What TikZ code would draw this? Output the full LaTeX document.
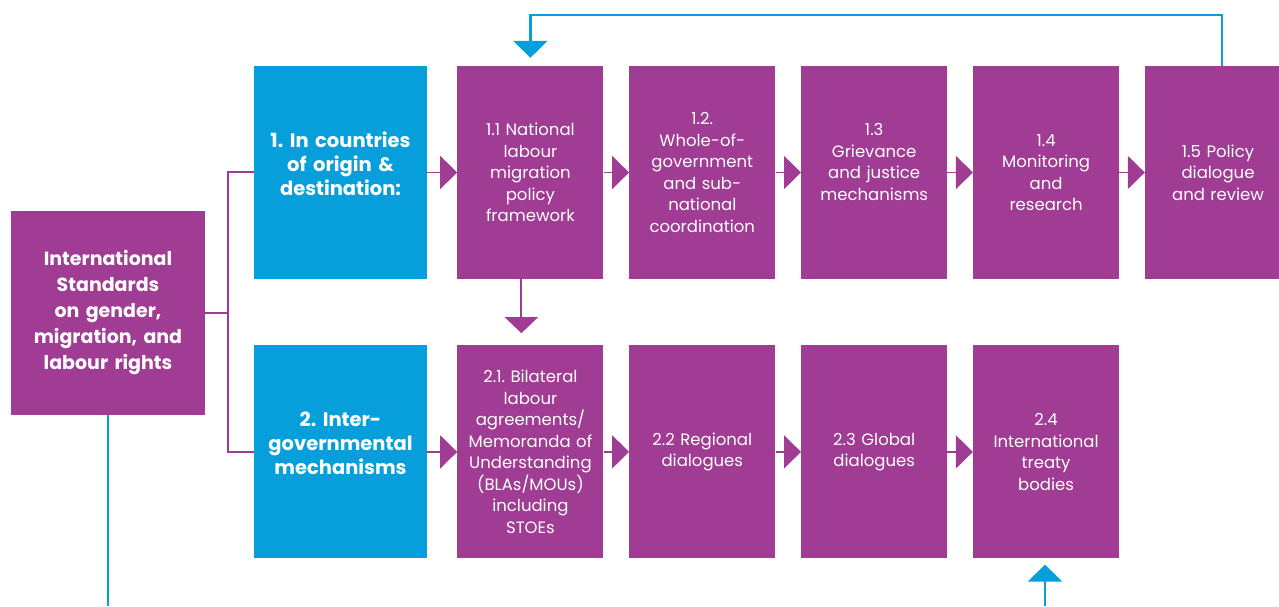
\documentclass[tikz,border=0pt]{standalone}
\usepackage{fontspec}
\setmainfont{Poppins}
\usepackage{xcolor}
\usepackage{tikz}
\usetikzlibrary{positioning,arrows.meta}
\definecolor{morado}{RGB}{160,60,147}
\definecolor{azul}{RGB}{7,159,219}
\frenchspacing

\begin{document}
\begin{tikzpicture}[x=1pt, y=1pt, node distance=66pt and 25.5pt,
  every node/.style={text=white, align=center, inner sep=0pt},
  paso/.style={fill=morado, minimum width=146pt, minimum height=213pt, text width=140pt, font=\fontsize{16.5}{21.5}\selectfont},
  eje/.style={fill=azul, minimum width=173pt, minimum height=213pt, text width=170pt, font=\bfseries\fontsize{19.5}{24}\selectfont},
  enlace/.style={draw=morado, line width=2pt},
  retro/.style={draw=azul, line width=2.5pt}]
  \useasboundingbox (0,0) rectangle (1279,606);

  % Normas
  \node[fill=morado, minimum width=194pt, minimum height=203pt, text width=190pt, font=\bfseries\fontsize{19}{26}\selectfont] (normas) at (108,293)
{International\\ Standards\\ on gender,\\ migration, and\\ labour rights};

  % Ejes
  \node[eje] (eje1) at (340.5,433.5) {1. In countries\\ of origin \&\\ destination:\\[-6pt] \mbox{}};
  \node[eje, below=of eje1] (eje2) {2. Inter-\\ governmental\\ mechanisms\\[-6pt] \mbox{}};

  % Fila 1
  \node[paso, right=30pt of eje1] (p1) {1.1 National\\ labour\\ migration\\ policy\\ framework};
  \node[paso, right=of p1] (p2) {1.2.\\ Whole-of-\\ government\\ and sub-\\ national\\ coordination};
  \node[paso, right=of p2] (p3) {1.3\\ Grievance\\ and justice\\ mechanisms\\ \mbox{}};
  \node[paso, right=of p3] (p4) {1.4\\ Monitoring\\ and\\ research};
  \node[paso, right=of p4] (p5) {1.5 Policy\\ dialogue\\ and review};

  % Fila 2
  \node[paso, right=30pt of eje2] (q1) {2.1. Bilateral\\ labour\\ agreements/\\ Memoranda of\\ Understanding\\ (BLAs/MOUs)\\ including\\ STOEs};
  \node[paso, right=of q1] (q2) {2.2 Regional\\ dialogues};
  \node[paso, right=of q2] (q3) {2.3 Global\\ dialogues};
  \node[paso, right=of q3] (q4) {2.4\\ International\\ treaty\\ bodies};

  % Ramas
  \coordinate[right=23pt of normas.east] (nudo);
  \coordinate (cima) at (0,591);
  \coordinate (base) at (1045,0);
  \draw[enlace] (normas.east) -- (nudo);
  \draw[enlace] (eje1.west) -| (nudo) |- (eje2.west);

  % Flechas
\foreach \a/\b in {eje1/p1,p1/p2,p2/p3,p3/p4,p4/p5,eje2/q1,q1/q2,q2/q3,q3/q4}
\draw[enlace, line width=1.5pt, -{Triangle[width=33pt,length=17pt]}] (\a) -- (\b);
\draw[enlace, -{Triangle[width=33pt,length=16pt]}, shorten >=12pt] ([xshift=-9pt]p1.south) -- ([xshift=-9pt]q1.north);
\draw[retro, -{Triangle[width=34pt,length=17pt]}, shorten >=8pt] ([xshift=4pt]p5.north) |- (cima -| p1.north) -- (p1.north);
\draw[retro, -{Triangle[width=34pt,length=17pt]}, shorten >=6pt] (base) -- (base |- q4.south);
\draw[retro] (normas.south) -- (normas.south |- base);

\end{tikzpicture}
\end{document}
